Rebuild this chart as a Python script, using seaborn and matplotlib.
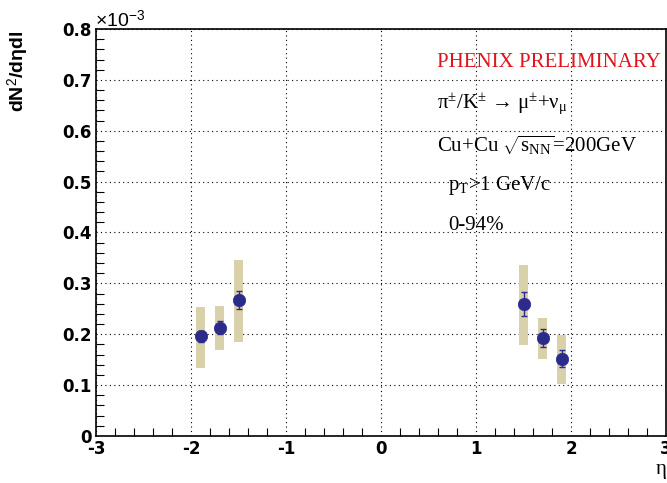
import numpy as np
import pandas as pd
import matplotlib
matplotlib.use("Agg")
import matplotlib.pyplot as plt
import seaborn as sns
from matplotlib.ticker import MultipleLocator

eta = [-1.9, -1.7, -1.5, 1.5, 1.7, 1.9]
dndeta = [0.196, 0.213, 0.267, 0.259, 0.192, 0.152]   # x 1e-3
stat_err = [0.011, 0.013, 0.017, 0.023, 0.018, 0.017]
sys_low = [0.134, 0.168, 0.184, 0.178, 0.152, 0.103]
sys_high = [0.253, 0.255, 0.346, 0.336, 0.231, 0.198]
x_ticks = [-3, -2, -1, 0, 1, 2, 3]
y_ticks = [0, 0.1, 0.2, 0.3, 0.4, 0.5, 0.6, 0.7, 0.8]

df = pd.DataFrame({"eta": eta, "y": dndeta, "err": stat_err,
                   "lo": sys_low, "hi": sys_high})

sns.set_theme(style="white")
plt.rcParams["font.family"] = ["Liberation Sans", "DejaVu Sans"]
plt.rcParams["mathtext.fontset"] = "custom"
plt.rcParams["mathtext.rm"] = "Liberation Serif"
plt.rcParams["mathtext.it"] = "Liberation Serif"
plt.rcParams["mathtext.bf"] = "Liberation Serif:bold"
plt.rcParams["mathtext.sf"] = "Liberation Sans"
for key in ["text.color", "axes.labelcolor", "xtick.color", "ytick.color", "axes.edgecolor"]:
    plt.rcParams[key] = "black"

fig = plt.figure(figsize=(6.67, 4.83), dpi=100)
ax = fig.add_axes([0.144, 0.0974, 0.8545, 0.8426])

marker_color = "#2b2b8c"
band_color = "#d9d1aa"

# systematic bands
ax.bar(df["eta"], df["hi"] - df["lo"], bottom=df["lo"], width=0.1,
       color=band_color, edgecolor="none", zorder=2)
# statistical errors
ax.errorbar(df["eta"], df["y"], yerr=df["err"], fmt="none",
            ecolor=marker_color, elinewidth=1.0, capsize=2.2, capthick=1.0, zorder=3)
sns.scatterplot(data=df, x="eta", y="y", ax=ax, color=marker_color,
                s=80, edgecolor=marker_color, linewidth=0.5, zorder=4, legend=False)

ax.set_xlim(-3, 3)
ax.set_ylim(0, 0.8)
ax.set_xticks(x_ticks)
ax.set_yticks(y_ticks)
ax.set_xticklabels([str(t) for t in x_ticks])
ax.set_yticklabels(["0"] + [f"{t:.1f}" for t in y_ticks[1:]])
ax.xaxis.set_minor_locator(MultipleLocator(0.2))
ax.yaxis.set_minor_locator(MultipleLocator(0.02))
ax.tick_params(axis="both", which="major", direction="in", length=13, width=1,
               labelsize=12, color="black", labelcolor="black", top=False, right=False)
ax.tick_params(axis="both", which="minor", direction="in", length=6, width=0.8,
               color="black", top=False, right=False, bottom=True, left=True)
ax.tick_params(axis="x", which="major", pad=3)
ax.tick_params(axis="y", which="major", pad=3)
for lab in ax.get_xticklabels() + ax.get_yticklabels():
    lab.set_fontweight("bold")
    lab.set_family("DejaVu Sans")

ax.grid(True, which="major", linestyle=(0, (1, 3)), color="black", linewidth=0.8)
ax.set_axisbelow(True)
for sp in ax.spines.values():
    sp.set_color("black")
    sp.set_linewidth(1.2)

ax.set_xlabel("")
ax.set_ylabel("")
fig.text(0.028, 0.853, "dN$^{\\mathsf{2}}$/dηdl", rotation=90, ha="center", va="center",
         fontsize=14, fontweight="bold", color="black")
fig.text(0.991, 0.027, "η", ha="center", va="center", fontsize=15,
         family="Liberation Serif", color="black")
fig.text(0.143, 0.957, "×10$^{\\mathsf{-3}}$", ha="left", va="center", fontsize=14,
         color="black")

serif = "Liberation Serif"
fs = 15
fig.text(0.655, 0.870, "PHENIX PRELIMINARY", color="#e0141e", fontsize=fs,
         family=serif, ha="left", va="center")
fig.text(0.655, 0.783, "π$^{±}$/K$^{±}$ → μ$^{±}$+ν$_{μ}$",
         fontsize=fs, family=serif, ha="left", va="center", color="black")
fig.text(0.655, 0.700, "Cu+Cu $\\sqrt{s_{\\mathrm{NN}}}$=200GeV",
         fontsize=fs, family=serif, ha="left", va="center", color="black")
fig.text(0.672, 0.615, "p$_{\\mathrm{T}}$>1 GeV/c",
         fontsize=fs, family=serif, ha="left", va="center", color="black")
fig.text(0.672, 0.534, "0-94%", fontsize=fs, family=serif, ha="left", va="center",
         color="black")

fig.savefig("out.png", dpi=100)
